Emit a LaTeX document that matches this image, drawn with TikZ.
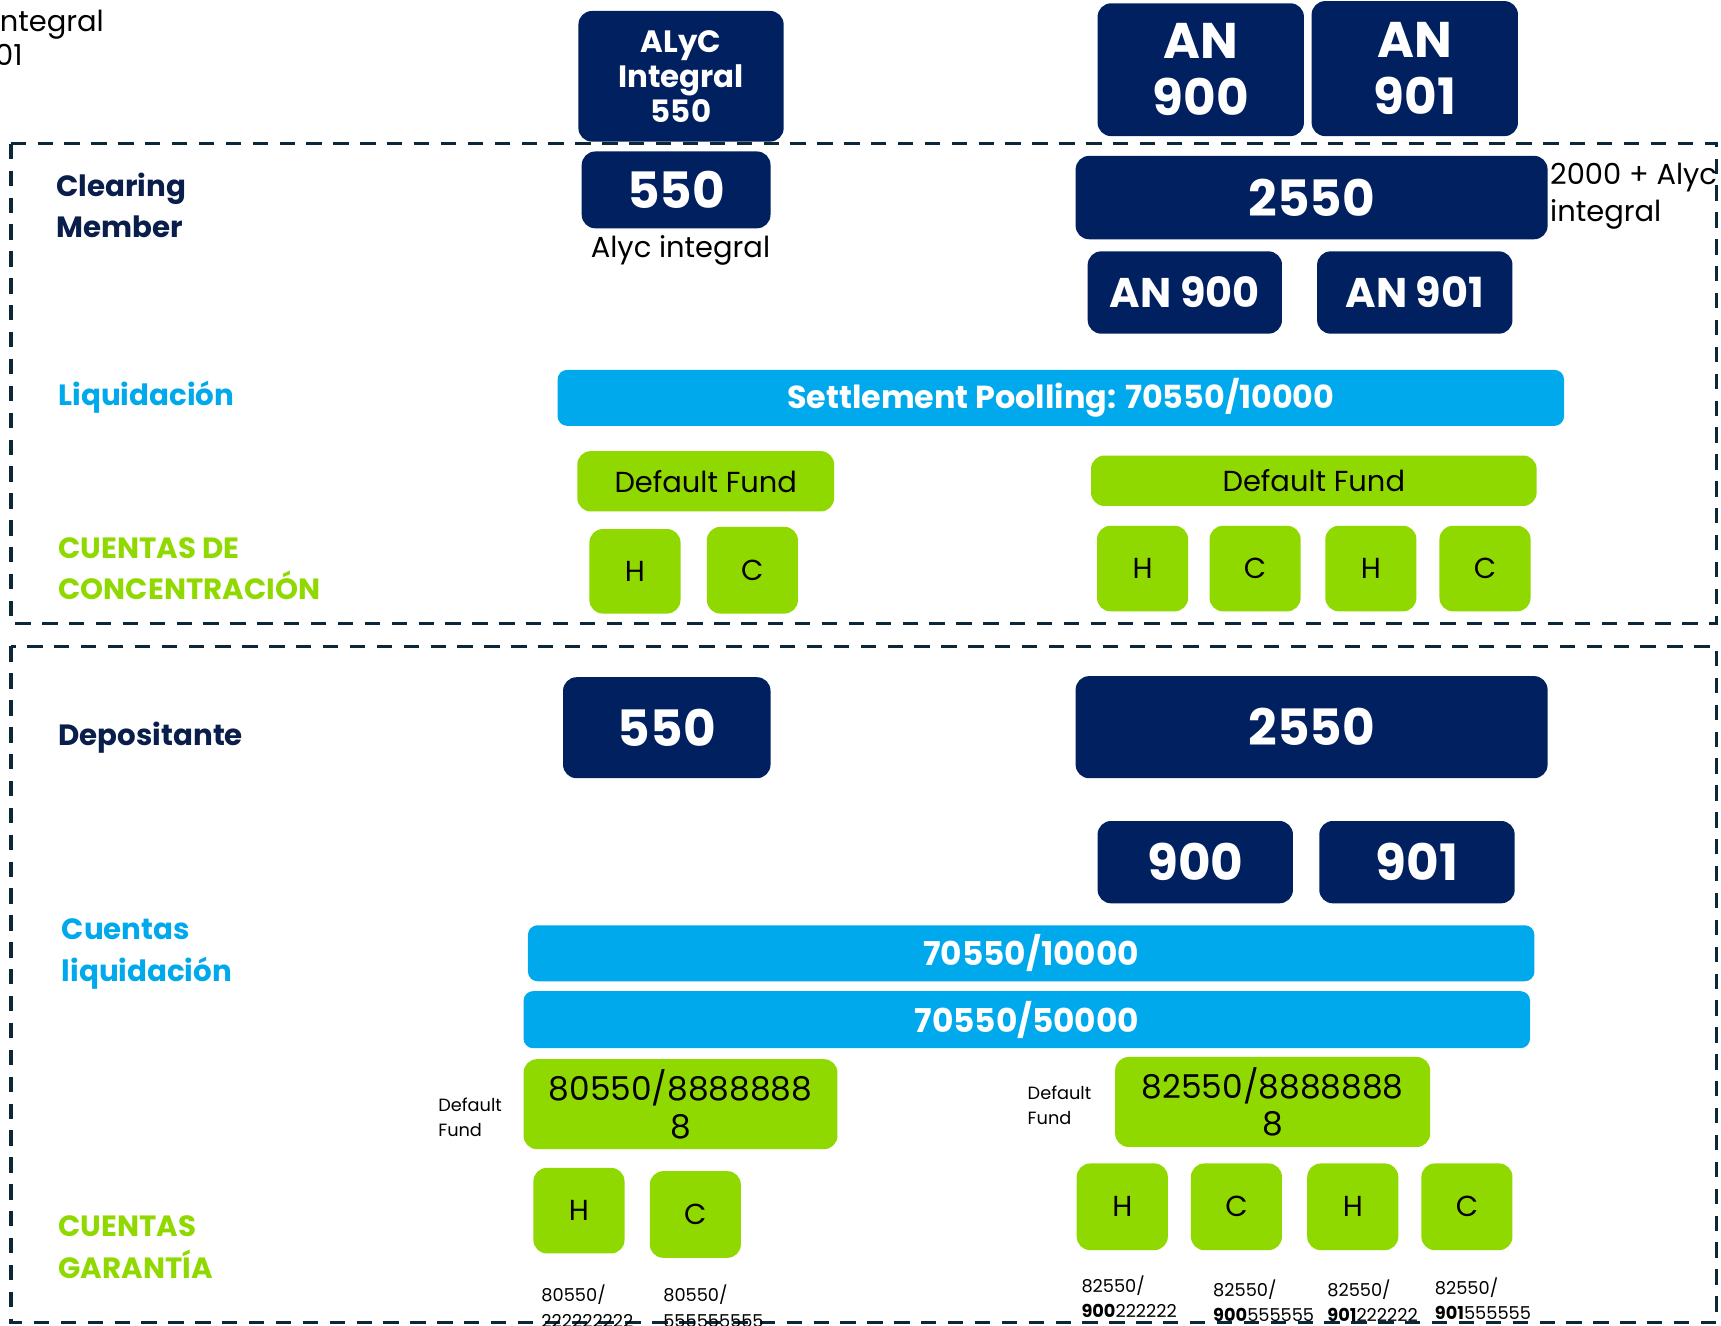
\documentclass[tikz,border=0pt]{standalone}
\usepackage{fontspec}
\setmainfont{Poppins}
\definecolor{boxnavy}{RGB}{0,32,96}
\definecolor{labelnavy}{RGB}{10,30,75}
\definecolor{poolblue}{RGB}{0,168,236}
\definecolor{fundgreen}{RGB}{144,217,0}
\definecolor{frameline}{RGB}{12,40,56}

\begin{document}
\begin{tikzpicture}[x=0.02cm,y=-0.02cm,
  wh/.style 2 args={minimum width=#1*0.02cm,minimum height=#2*0.02cm},
  frame/.style={draw=frameline,line width=1.7pt,dash pattern=on 0.28cm off 0.21cm},
  navybox/.style={fill=boxnavy,text=white,rounded corners=7pt,inner sep=0pt,align=center},
  bluebar/.style={fill=poolblue,text=white,rounded corners=5pt,inner sep=0pt,font=\bfseries\fontsize{16.5}{19}\selectfont},
  greenbox/.style={fill=fundgreen,text=black,rounded corners=7pt,inner sep=0pt,align=center,font=\fontsize{15}{18}\selectfont},
  numbig/.style={font=\bfseries\fontsize{26}{30}\selectfont},
  nummid/.style={font=\bfseries\fontsize{21.5}{26}\selectfont},
  rowlabel/.style={anchor=west,align=left,inner sep=0pt,font=\bfseries\fontsize{15.2}{21.6}\selectfont},
  notetext/.style={inner sep=0pt,align=left,font=\fontsize{15}{19.4}\selectfont},
  smallnote/.style={anchor=west,inner sep=0pt,align=left,font=\fontsize{9.2}{13}\selectfont}]
\useasboundingbox (0,0) rectangle (1568,1208);

\node[notetext,anchor=west] (cutint) at (-7,22) {integral};
\node[notetext,anchor=east] (cut901) at (21,50) {901};

\node[navybox,wh={187}{119},font=\bfseries\fontsize{16}{18.2}\selectfont] (alyc) at (620.5,69.5) {ALyC\\Integral\\550};
\node[navybox,wh={188}{121},font=\bfseries\fontsize{26}{29.6}\selectfont] (an900top) at (1094,63.5) {AN\\900};
\node[navybox,wh={188}{123},font=\bfseries\fontsize{26}{29.6}\selectfont] (an901top) at (1289,62.5) {AN\\901};

\draw[frame] (10,131) rectangle (1564,568);
\draw[frame] (10,589) rectangle (1564,1205);

\node[rowlabel,text=labelnavy] (clearing) at (51,187) {Clearing\\Member};
\node[navybox,wh={172}{70},numbig] (cm550) at (616,173) {550};
\node[notetext] (cm550note) at (620,228) {Alyc integral};
\node[navybox,wh={430}{76},numbig] (cm2550) at (1195,180) {2550};
\node[notetext,anchor=west] (cm2550note) at (1412,179) {2000 + Alyc\\integral};
\node[navybox,wh={177}{75},nummid] (cman900) at (1079.5,266.5) {AN 900};
\node[navybox,wh={178}{75},nummid] (cman901) at (1289,266.5) {AN 901};

\node[rowlabel,text=poolblue] (liquidacion) at (53,362) {Liquidación};
\node[bluebar,wh={917}{51}] (pool) at (966.5,362.5) {Settlement Poolling: 70550/10000};

\node[greenbox,wh={234}{55}] (dfleft) at (643,438.5) {Default Fund};
\node[greenbox,wh={406}{46}] (dfright) at (1197,438) {Default Fund};
\node[greenbox,wh={83}{77}] (concH) at (578.5,520.5) {H};
\node[greenbox,wh={83}{79}] (concC) at (685.5,519.5) {C};
\foreach \x/\t [count=\i] in {1041/H,1143.5/C,1249/H,1353/C}
  \node[greenbox,wh={83}{78}] (conc\i) at (\x,518) {\t};
\node[rowlabel,text=fundgreen] (concentracion) at (53,518) {CUENTAS DE\\CONCENTRACIÓN};

\node[rowlabel,text=labelnavy] (depositante) at (53,672) {Depositante};
\node[navybox,wh={189}{92},numbig] (dep550) at (607.5,663) {550};
\node[navybox,wh={430}{93},numbig] (dep2550) at (1195,662.5) {2550};
\node[navybox,wh={178}{75},numbig] (dep900) at (1089,785.5) {900};
\node[navybox,wh={178}{75},numbig] (dep901) at (1291,785.5) {901};

\node[rowlabel,text=poolblue] (cuentasliq) at (56,869) {Cuentas\\liquidación};
\node[bluebar,wh={917}{51},font=\bfseries\fontsize{17}{20}\selectfont] (liq10000) at (939.5,868.5) {70550/10000};
\node[bluebar,wh={917}{52},font=\bfseries\fontsize{17}{20}\selectfont] (liq50000) at (935.5,929) {70550/50000};

\node[smallnote] (dfnoteleft) at (399,1018) {Default\\Fund};
\node[greenbox,wh={286}{82},font=\fontsize{17}{19.4}\selectfont] (gar80550) at (620,1006) {80550/8888888\\8};
\node[smallnote] (dfnoteright) at (936,1007) {Default\\Fund};
\node[greenbox,wh={287}{82},font=\fontsize{17}{19.4}\selectfont] (gar82550) at (1159.5,1004) {82550/8888888\\8};

\node[greenbox,wh={83}{78}] (garH) at (527.5,1103) {H};
\node[greenbox,wh={83}{79}] (garC) at (633.5,1106.5) {C};
\foreach \x/\t [count=\i] in {1022.5/H,1126.5/C,1232.5/H,1336.5/C}
  \node[greenbox,wh={83}{79}] (gar\i) at (\x,1099.5) {\t};

\node[smallnote] (accH) at (493,1190) {80550/\\222222222};
\node[smallnote] (accC) at (604,1190) {80550/\\555555555};
\node[smallnote] (acc1) at (985,1181) {82550/\\\textbf{900}222222};
\node[smallnote] (acc2) at (1105,1185) {82550/\\\textbf{900}555555};
\node[smallnote] (acc3) at (1209,1185) {82550/\\\textbf{901}222222};
\node[smallnote] (acc4) at (1307,1183) {82550/\\\textbf{901}555555};

\node[rowlabel,text=fundgreen] (garantia) at (53,1136) {CUENTAS\\GARANTÍA};
\end{tikzpicture}
\end{document}
